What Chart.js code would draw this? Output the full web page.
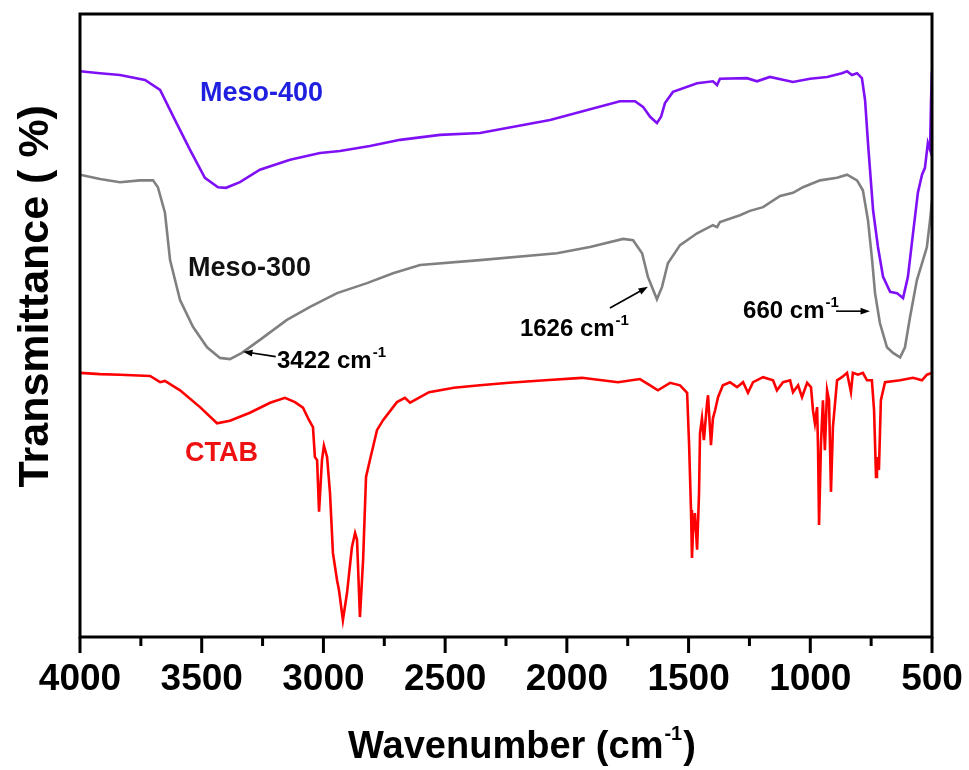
<!DOCTYPE html>
<html lang="en">
<head>
  <meta charset="UTF-8">
  <title>FTIR - CTAB, Meso-300, Meso-400</title>
  <script src="https://cdn.jsdelivr.net/npm/chart.js"></script>
  <style>
    body { margin: 0; background: #fff; }
    #chart { display: block; }
  </style>
</head>
<body>
  <canvas id="chart" width="969" height="770"></canvas>
  <script>
    // wavenumber (cm-1) and transmittance (arb. %)
    const meso400Wn = [4000, 3918, 3836, 3733, 3671, 3610, 3548, 3487, 3433, 3400, 3343, 3261, 3137, 3014, 2932, 2809, 2685, 2521, 2357, 2069, 1782, 1720, 1687, 1658, 1630, 1613, 1597, 1564, 1465, 1400, 1383, 1371, 1260, 1219, 1166, 1071, 1001, 931, 870, 849, 829, 808, 788, 775, 763, 742, 722, 701, 672, 644, 619, 599, 578, 558, 541, 529, 517, 508, 504, 500];
    const meso400T = [90.8, 90.5, 90.2, 89.4, 87.8, 83.0, 78.2, 73.7, 72.2, 72.1, 73.0, 75.0, 76.6, 77.7, 78.0, 78.8, 79.8, 80.6, 80.9, 83.0, 86.0, 86.0, 85.1, 83.5, 82.5, 83.5, 85.7, 87.5, 88.9, 89.2, 88.6, 89.6, 89.7, 89.2, 89.9, 89.1, 89.6, 89.9, 90.5, 90.8, 90.2, 90.5, 89.7, 86.2, 79.3, 68.5, 62.6, 57.8, 55.4, 55.2, 54.4, 57.8, 64.8, 71.3, 74.2, 75.3, 79.3, 78.2, 86.0, 90.8];

    const meso300Wn = [4000, 3918, 3836, 3754, 3700, 3680, 3651, 3630, 3589, 3536, 3478, 3425, 3384, 3335, 3261, 3150, 3055, 2944, 2821, 2714, 2603, 2357, 2041, 1905, 1769, 1728, 1691, 1667, 1630, 1609, 1585, 1535, 1465, 1400, 1383, 1371, 1289, 1248, 1194, 1124, 1071, 1030, 960, 890, 849, 808, 784, 763, 746, 734, 714, 685, 660, 631, 611, 590, 562, 537, 521, 508, 500];
    const meso300T = [74.2, 73.5, 73.0, 73.3, 73.3, 72.2, 68.1, 60.5, 54.1, 49.8, 46.5, 44.8, 44.6, 45.6, 47.7, 50.9, 53.0, 55.2, 56.8, 58.4, 59.7, 60.5, 61.6, 62.6, 63.9, 63.7, 61.6, 57.8, 54.2, 56.2, 60.0, 62.9, 64.8, 66.1, 65.8, 66.6, 67.7, 68.4, 69.0, 70.8, 71.3, 72.2, 73.3, 73.7, 74.2, 73.3, 71.7, 66.9, 60.5, 55.2, 50.4, 46.5, 45.6, 44.9, 46.5, 51.4, 57.3, 60.5, 62.6, 66.9, 70.1];

    const ctabWn = [4000, 3918, 3836, 3712, 3671, 3651, 3589, 3507, 3437, 3384, 3302, 3219, 3158, 3117, 3084, 3059, 3043, 3035, 3026, 3018, 3006, 2998, 2985, 2973, 2961, 2944, 2936, 2920, 2903, 2883, 2870, 2862, 2850, 2837, 2825, 2809, 2780, 2755, 2698, 2665, 2644, 2603, 2566, 2464, 2357, 2238, 2090, 1938, 1790, 1700, 1658, 1626, 1576, 1535, 1506, 1498, 1490, 1486, 1482, 1474, 1465, 1457, 1453, 1445, 1437, 1424, 1420, 1408, 1400, 1391, 1379, 1359, 1330, 1301, 1276, 1256, 1235, 1194, 1153, 1137, 1112, 1083, 1071, 1050, 1034, 1013, 997, 989, 981, 972, 968, 964, 956, 948, 940, 931, 923, 915, 907, 890, 870, 849, 833, 825, 804, 784, 767, 747, 738, 730, 726, 718, 710, 693, 631, 578, 541, 521, 500];
    const ctabT = [42.4, 42.2, 42.1, 41.9, 40.9, 41.1, 39.6, 36.9, 34.3, 34.7, 36.0, 37.6, 38.4, 37.7, 36.8, 34.8, 33.7, 28.9, 28.4, 20.1, 28.4, 30.7, 28.9, 23.1, 13.5, 9.1, 7.5, 2.7, 7.1, 14.4, 16.7, 15.6, 3.2, 12.4, 25.7, 28.4, 33.2, 34.8, 37.7, 38.4, 37.6, 38.5, 39.3, 40.0, 40.4, 40.8, 41.2, 41.6, 40.9, 41.4, 40.4, 39.6, 40.8, 40.4, 39.2, 31.1, 20.4, 12.7, 16.7, 19.9, 14.0, 23.1, 32.7, 35.1, 31.6, 37.6, 38.8, 30.8, 35.1, 36.4, 38.5, 40.4, 40.9, 40.1, 40.9, 39.2, 40.9, 41.7, 41.2, 39.6, 40.9, 41.2, 39.3, 40.4, 38.5, 40.8, 40.1, 36.4, 34.3, 36.9, 30.0, 18.0, 31.1, 38.0, 30.0, 39.6, 38.0, 23.3, 33.7, 41.2, 41.7, 42.4, 39.3, 42.4, 42.1, 42.4, 41.2, 41.2, 36.4, 25.7, 28.9, 26.8, 38.0, 40.9, 41.2, 41.6, 41.2, 42.1, 42.4];

    const xTicks = [4000, 3500, 3000, 2500, 2000, 1500, 1000, 500];

    const FONT = "'Liberation Sans', Arial, sans-serif";

    function toPoints(xs, ys) {
      return xs.map((x, i) => ({ x: x, y: ys[i] }));
    }

    // curve names, placed at (wavenumber, T)
    const seriesLabels = [
      { text: "Meso-400", color: "#1f1fe0", wn: 3507, t: 86.0 },
      { text: "Meso-300", color: "#111111", wn: 3556, t: 57.9 },
      { text: "CTAB", color: "#ee1111", wn: 3569, t: 28.2 }
    ];

    // peak annotations with arrows
    const peakNotes = [
      { text: "3422 cm", wn: 3191, t: 43.2, from: [3196, 45.0], to: [3330, 45.8] },
      { text: "1626 cm", wn: 2193, t: 48.3, from: [1823, 52.8], to: [1667, 56.2] },
      { text: "660 cm", wn: 1276, t: 51.2, from: [894, 52.3], to: [755, 52.3] }
    ];

    function drawArrow(ctx, x1, y1, x2, y2) {
      const ang = Math.atan2(y2 - y1, x2 - x1);
      ctx.beginPath();
      ctx.moveTo(x1, y1);
      ctx.lineTo(x2 - 6 * Math.cos(ang), y2 - 6 * Math.sin(ang));
      ctx.lineWidth = 1.6;
      ctx.stroke();
      ctx.beginPath();
      ctx.moveTo(x2, y2);
      ctx.lineTo(x2 - 10 * Math.cos(ang - 0.35), y2 - 10 * Math.sin(ang - 0.35));
      ctx.lineTo(x2 - 10 * Math.cos(ang + 0.35), y2 - 10 * Math.sin(ang + 0.35));
      ctx.closePath();
      ctx.fill();
    }

    const decor = {
      id: "decor",
      afterDraw(chart) {
        const ctx = chart.ctx;
        const area = chart.chartArea;
        const xs = chart.scales.x;
        const ys = chart.scales.y;
        ctx.save();

        // frame
        ctx.strokeStyle = "#000";
        ctx.lineWidth = 3;
        ctx.strokeRect(area.left, area.top, area.right - area.left, area.bottom - area.top);

        // bottom ticks, major every 500, minor every 250
        for (let v = 500; v <= 4000; v += 250) {
          const px = xs.getPixelForValue(v);
          const len = v % 500 === 0 ? 16 : 9;
          ctx.beginPath();
          ctx.moveTo(px, area.bottom);
          ctx.lineTo(px, area.bottom + len);
          ctx.stroke();
        }

        // series names
        ctx.textAlign = "left";
        ctx.textBaseline = "alphabetic";
        seriesLabels.forEach(l => {
          ctx.fillStyle = l.color;
          ctx.font = "bold 27px " + FONT;
          ctx.fillText(l.text, xs.getPixelForValue(l.wn), ys.getPixelForValue(l.t));
        });

        // peak notes
        ctx.fillStyle = "#000";
        ctx.strokeStyle = "#000";
        peakNotes.forEach(n => {
          const px = xs.getPixelForValue(n.wn);
          const py = ys.getPixelForValue(n.t);
          ctx.font = "bold 24px " + FONT;
          ctx.fillText(n.text, px, py);
          const w = ctx.measureText(n.text).width;
          ctx.font = "bold 15px " + FONT;
          ctx.fillText("-1", px + w + 1, py - 11);
          drawArrow(ctx,
            xs.getPixelForValue(n.from[0]), ys.getPixelForValue(n.from[1]),
            xs.getPixelForValue(n.to[0]), ys.getPixelForValue(n.to[1]));
        });

        // x axis title with superscript
        const main = "Wavenumber (cm";
        ctx.font = "bold 38px " + FONT;
        const w1 = ctx.measureText(main).width;
        ctx.font = "bold 20px " + FONT;
        const w2 = ctx.measureText("-1").width;
        ctx.font = "bold 38px " + FONT;
        const w3 = ctx.measureText(")").width;
        const total = w1 + w2 + 2 + w3;
        let tx = (area.left + area.right) / 2 + 16 - total / 2;
        const tBase = area.bottom + 121;
        ctx.fillText(main, tx, tBase);
        ctx.font = "bold 20px " + FONT;
        ctx.fillText("-1", tx + w1 + 1, tBase - 18);
        ctx.font = "bold 38px " + FONT;
        ctx.fillText(")", tx + w1 + w2 + 2, tBase);

        // y axis title
        ctx.translate(36, area.top + (area.bottom - area.top) * 0.453);
        ctx.rotate(-Math.PI / 2);
        ctx.textAlign = "center";
        ctx.textBaseline = "middle";
        ctx.font = "bold 43px " + FONT;
        ctx.fillText("Transmittance ( %)", 0, 0);

        ctx.restore();
      }
    };

    new Chart(document.getElementById("chart").getContext("2d"), {
      type: "line",
      data: {
        datasets: [
          { label: "Meso-400", data: toPoints(meso400Wn, meso400T), borderColor: "#7f10f5", borderWidth: 2.6, pointRadius: 0, tension: 0 },
          { label: "Meso-300", data: toPoints(meso300Wn, meso300T), borderColor: "#808080", borderWidth: 2.6, pointRadius: 0, tension: 0 },
          { label: "CTAB", data: toPoints(ctabWn, ctabT), borderColor: "#ff0000", borderWidth: 2.6, pointRadius: 0, tension: 0 }
        ]
      },
      options: {
        responsive: false,
        animation: false,
        layout: { padding: { top: 14, right: 37, left: 0, bottom: 0 } },
        plugins: { legend: { display: false }, tooltip: { enabled: false } },
        scales: {
          x: {
            type: "linear",
            reverse: true,
            min: 500,
            max: 4000,
            afterFit: s => { s.height = 133; s.paddingLeft = 0; s.paddingRight = 0; },
            afterBuildTicks: s => { s.ticks = xTicks.map(v => ({ value: v })); },
            ticks: {
              color: "#000",
              font: { family: FONT, size: 37, weight: "bold" },
              padding: 21,
              maxRotation: 0,
              autoSkip: false,
              callback: v => String(v)
            },
            grid: { display: false, drawTicks: false },
            border: { display: false }
          },
          y: {
            min: 0,
            max: 100,
            afterFit: s => { s.width = 80; s.paddingTop = 0; s.paddingBottom = 0; },
            ticks: { display: false },
            grid: { display: false, drawTicks: false },
            border: { display: false }
          }
        }
      },
      plugins: [decor]
    });
  </script>
</body>
</html>
